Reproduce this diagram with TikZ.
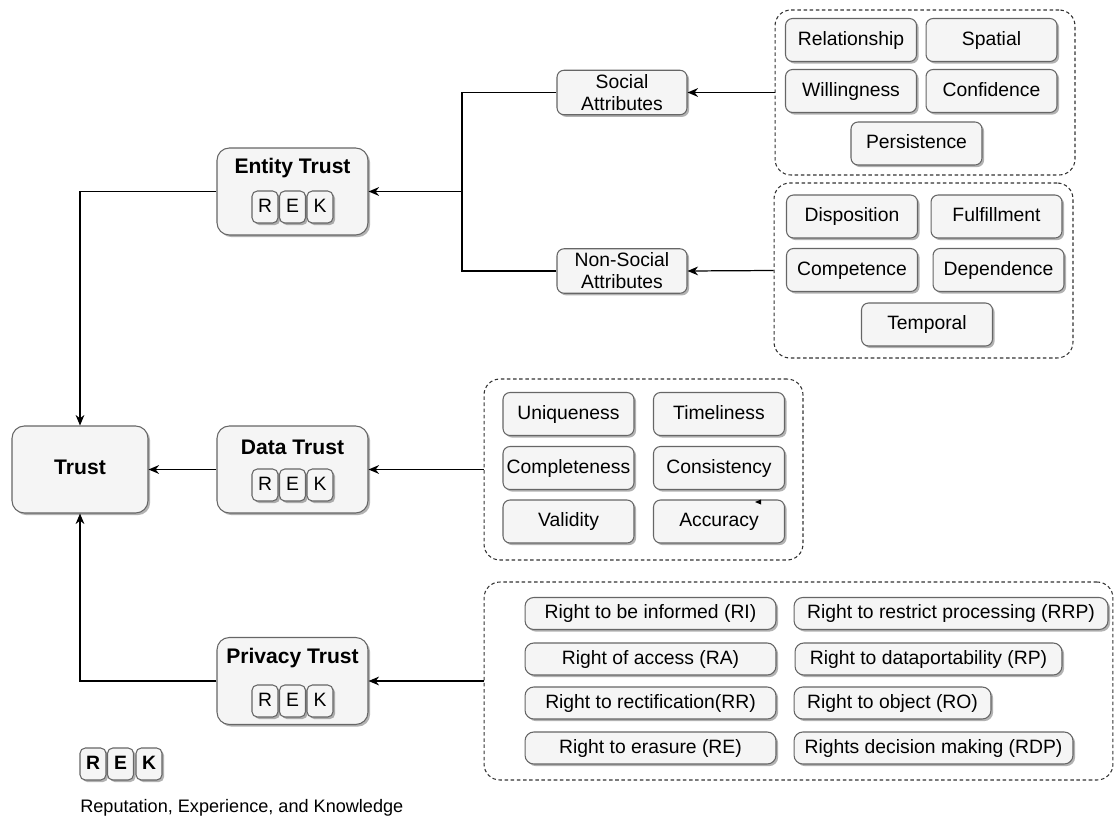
\documentclass[tikz,border=0pt]{standalone}
\usepackage{fontspec}
\setmainfont{Liberation Sans}
\usetikzlibrary{arrows.meta,shadows}
\definecolor{boxfill}{HTML}{F5F5F5}
\definecolor{boxline}{HTML}{666666}
\begin{document}
\begin{tikzpicture}[x=0.02cm, y=-0.02cm,
    base/.style={rectangle, draw=boxline, fill=boxfill, line width=0.6pt, drop shadow={shadow xshift=1.2pt, shadow yshift=-1.2pt, fill=black, opacity=0.3}, inner sep=0pt, align=center, font=\fontsize{11}{12.5}\selectfont},
    oneline/.style={text height=0.72em, text depth=0.12em},
    trustbox/.style={base, rounded corners=7pt, minimum width=3.02cm, minimum height=1.74cm},
    ttl/.style={inner sep=0pt, font=\fontsize{12}{14}\selectfont\bfseries},
    key/.style={base, oneline, rounded corners=3pt, minimum width=0.52cm, minimum height=0.64cm},
    mid/.style={base, rounded corners=4pt, minimum width=2.6cm, minimum height=0.89cm},
    attr/.style={base, oneline, rounded corners=4pt, minimum width=2.62cm, minimum height=0.86cm},
    rbox/.style={base, oneline, rounded corners=5pt, minimum height=0.64cm},
    group/.style={rectangle, draw=black!80, dash pattern=on 2pt off 1.5pt, rounded corners=9pt, line width=0.6pt, inner sep=0pt},
    arr/.style={->, >={Stealth[length=6pt, width=5pt]}, line width=0.7pt},
    ln/.style={line width=0.7pt}
]
\useasboundingbox (0,0) rectangle (1115,821);

\node[trustbox, oneline, minimum width=2.72cm, font=\fontsize{12}{14}\selectfont\bfseries] (trust) at (80,469.5) {Trust};

\node[trustbox] (entity) at (292.5,191.5) {};
\node[ttl] (entityttl) at (292.5,168) {Entity Trust};
\node[key] (entityR) at (265,207) {R};
\node[key] (entityE) at (292.5,207) {E};
\node[key] (entityK) at (320,207) {K};

\node[trustbox] (data) at (292.5,469.5) {};
\node[ttl] (datattl) at (292.5,447) {Data Trust};
\node[key] (dataR) at (265,485) {R};
\node[key] (dataE) at (292.5,485) {E};
\node[key] (dataK) at (320,485) {K};

\node[trustbox] (privacy) at (292.5,681) {};
\node[ttl] (privacyttl) at (292.5,658) {Privacy Trust};
\node[key] (privacyR) at (265,701) {R};
\node[key] (privacyE) at (292.5,701) {E};
\node[key] (privacyK) at (320,701) {K};

\node[key, font=\fontsize{11}{12.5}\selectfont\bfseries] (legendR) at (93,764) {R};
\node[key, font=\fontsize{11}{12.5}\selectfont\bfseries] (legendE) at (120.5,764) {E};
\node[key, font=\fontsize{11}{12.5}\selectfont\bfseries] (legendK) at (149,764) {K};
\node[anchor=west, inner sep=0pt, font=\fontsize{10.3}{12}\selectfont] (legend) at (80,808) {Reputation, Experience, and Knowledge};

\node[mid] (social) at (622,92.5) {Social\\Attributes};
\node[mid] (nonsocial) at (622,271) {Non-Social\\Attributes};

\node[group, minimum width=6cm, minimum height=3.3cm] (sgroup) at (925,92.5) {};
\node[attr] (relationship) at (851,40) {Relationship};
\node[attr] (spatial) at (991.5,40) {Spatial};
\node[attr] (willingness) at (851,91) {Willingness};
\node[attr] (confidence) at (991.5,91) {Confidence};
\node[attr] (persistence) at (916.5,143.5) {Persistence};

\node[group, minimum width=5.98cm, minimum height=3.5cm] (ngroup) at (923.5,270.5) {};
\node[attr] (disposition) at (852,216.5) {Disposition};
\node[attr] (fulfillment) at (996.5,216.5) {Fulfillment};
\node[attr] (competence) at (852,270) {Competence};
\node[attr] (dependence) at (998.5,270) {Dependence};
\node[attr] (temporal) at (927,324.5) {Temporal};

\node[group, minimum width=6.38cm, minimum height=3.62cm] (dgroup) at (643.5,469.5) {};
\node[attr] (uniqueness) at (568.5,414) {Uniqueness};
\node[attr] (timeliness) at (719,414) {Timeliness};
\node[attr] (completeness) at (568.5,468) {Completeness};
\node[attr] (consistency) at (719,468) {Consistency};
\node[attr] (validity) at (568.5,521.5) {Validity};
\node[attr] (accuracy) at (719,521.5) {Accuracy};
\fill (761,499.5) -- (755,502) -- (761,504.5) -- cycle;

\node[group, minimum width=12.58cm, minimum height=3.96cm] (pgroup) at (798.5,681) {};
\node[rbox, minimum width=5.02cm] (ri) at (650.5,613.5) {Right to be informed (RI)};
\node[rbox, minimum width=5.02cm] (ra) at (650.5,659) {Right of access (RA)};
\node[rbox, minimum width=5.02cm] (rr) at (650.5,703) {Right to rectification(RR)};
\node[rbox, minimum width=5.02cm] (re) at (650.5,748) {Right to erasure (RE)};
\node[rbox, minimum width=6.28cm] (rrp) at (951,613.5) {Right to restrict processing (RRP)};
\node[rbox, minimum width=5.34cm] (rp) at (928.5,659) {Right to dataportability (RP)};
\node[rbox, minimum width=3.94cm] (ro) at (892.5,703) {Right to object (RO)};
\node[rbox, minimum width=5.58cm] (rdp) at (933.5,748) {Rights decision making (RDP)};

\coordinate (split) at (462,191.5);
\draw[ln] (social.west) -| (split) |- (nonsocial.west);
\draw[arr] (split) -- (entity.east);
\draw[arr] (sgroup.west) -- (social.east);
\draw[arr] (ngroup.west) -- (nonsocial.east);
\draw[arr] (dgroup.west) -- (data.east);
\draw[arr] (pgroup.west) -- (privacy.east);
\draw[arr] (entity.west) -| (trust.north);
\draw[arr] (data.west) -- (trust.east);
\draw[arr] (privacy.west) -| (trust.south);
\end{tikzpicture}
\end{document}
